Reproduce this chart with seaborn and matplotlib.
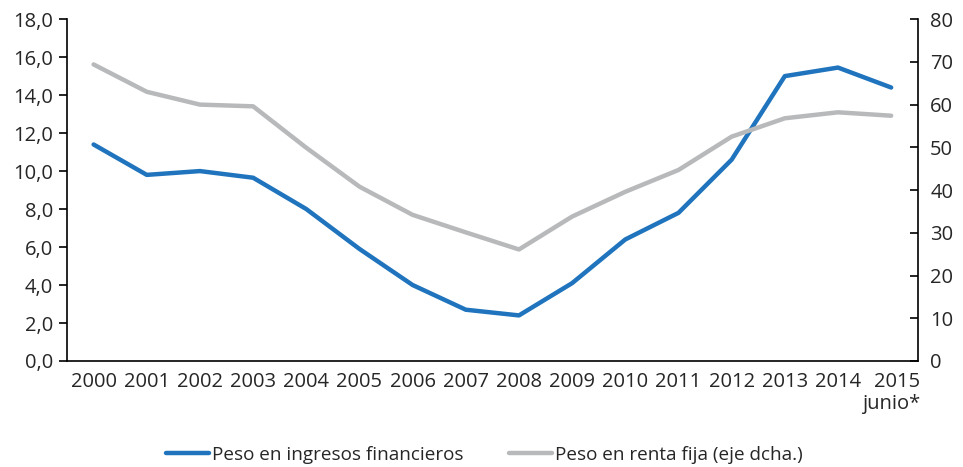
import numpy as np
import pandas as pd
import matplotlib.pyplot as plt
import seaborn as sns
from matplotlib.ticker import FixedLocator, FuncFormatter

sns.set_style('white')
plt.rcParams['font.family'] = ['Open Sans', 'DejaVu Sans']

# Data
years = ['2000', '2001', '2002', '2003', '2004', '2005', '2006', '2007',
         '2008', '2009', '2010', '2011', '2012', '2013', '2014', '2015\njunio*']
peso_ingresos = [11.4, 9.8, 10.0, 9.65, 8.0, 5.9, 4.0, 2.7,
                 2.4, 4.1, 6.4, 7.8, 10.6, 15.0, 15.45, 14.4]
peso_renta_fija = [69.4, 63.0, 60.0, 59.6, 49.9, 40.8, 34.2, 30.1,
                   26.1, 33.8, 39.6, 44.7, 52.5, 56.8, 58.2, 57.4]

df = pd.DataFrame({'pos': np.arange(len(years)),
                   'ingresos': peso_ingresos,
                   'renta': peso_renta_fija})

blue = '#1f74bd'
grey = '#b7b9bb'
txt = '#262626'
fs = 14.5

fig = plt.figure(figsize=(9.63, 4.67), dpi=100)
ax = fig.add_axes([0.0696, 0.227, 0.8834, 0.732])
ax2 = ax.twinx()

sns.lineplot(data=df, x='pos', y='ingresos', ax=ax, color=blue, lw=3.2,
             label='Peso en ingresos financieros', legend=False)
sns.lineplot(data=df, x='pos', y='renta', ax=ax2, color=grey, lw=3.2,
             label='Peso en renta fija (eje dcha.)', legend=False)

# left / right value axes
ax.set_ylim(0, 18)
ax.set_yticks(np.arange(0, 18.1, 2))
ax.yaxis.set_major_formatter(FuncFormatter(lambda v, p: f'{v:.1f}'.replace('.', ',')))
ax2.set_ylim(0, 80)
ax2.set_yticks(np.arange(0, 81, 10))

# categorical x axis: ticks at boundaries, labels at centres
ax.set_xlim(-0.5, len(years) - 0.5)
ax.xaxis.set_major_locator(FixedLocator(np.arange(-0.5, len(years), 1)))
ax.xaxis.set_major_formatter(FuncFormatter(lambda v, p: ''))
ax.xaxis.set_minor_locator(FixedLocator(np.arange(len(years))))
ax.set_xticklabels(years, minor=True, linespacing=1.15)
for t in ax.xaxis.get_minorticklabels():
    t.set_horizontalalignment('center')
    t.set_multialignment('right')
ax.tick_params(axis='x', which='minor', length=0, pad=8, labelsize=fs, labelcolor=txt)
ax.tick_params(axis='x', which='major', length=6, width=1.2, color='black', direction='out')
ax.tick_params(axis='y', length=6, width=1.2, color='black', direction='out',
               labelsize=fs, labelcolor=txt, pad=4)
ax2.tick_params(axis='y', length=6, width=1.2, color='black', direction='in',
                labelsize=fs, labelcolor=txt, pad=9)
ax.set_xlabel('')
ax.set_ylabel('')
ax2.set_ylabel('')

for a in (ax, ax2):
    a.spines['top'].set_visible(False)
    for s in ('left', 'right', 'bottom'):
        a.spines[s].set_color('black')
        a.spines[s].set_linewidth(1.2)
ax.spines['right'].set_visible(False)
ax2.spines['left'].set_visible(False)
ax2.spines['bottom'].set_visible(False)

h1, l1 = ax.get_legend_handles_labels()
h2, l2 = ax2.get_legend_handles_labels()
fig.legend(h1 + h2, l1 + l2, loc='center', bbox_to_anchor=(0.503, 0.026),
           ncol=2, frameon=False, fontsize=13.6, handlelength=2.3,
           handletextpad=0.15, columnspacing=2.4, labelcolor=txt)

fig.savefig('out.png', dpi=100)
